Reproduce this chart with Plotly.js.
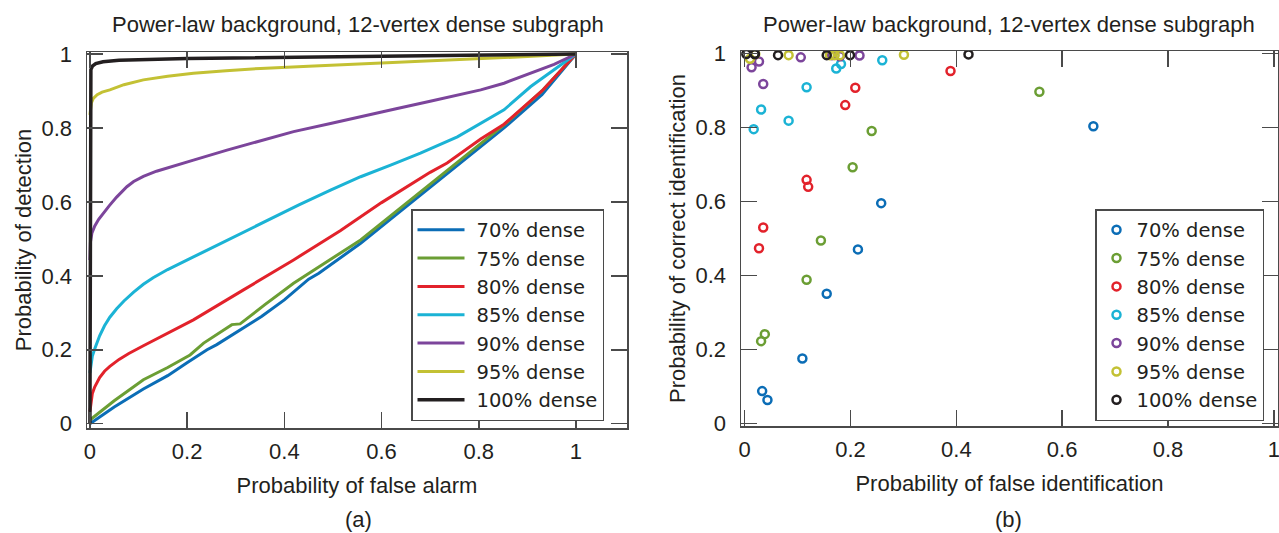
<!DOCTYPE html>
<html>
<head>
<meta charset="utf-8">
<script src="https://cdn.plot.ly/plotly-3.0.1.min.js"></script>
<style>
  html, body { margin: 0; padding: 0; background: #ffffff; }
  #chart { width: 1279px; height: 533px; }
</style>
</head>
<body>
<div id="chart"></div>
<script>
// Series names and colours, one per subgraph density
const densityLabels = ['70% dense', '75% dense', '80% dense', '85% dense', '90% dense', '95% dense', '100% dense'];
const seriesColors = ['#0b6db6', '#6b9e34', '#e2222b', '#1bb3d5', '#7c459b', '#c3c134', '#231f20'];

// (a) ROC curves: probability of false alarm vs probability of detection
const roc70X = [0, 0.05, 0.110, 0.160, 0.199, 0.241, 0.261, 0.353, 0.400, 0.450, 0.471, 0.557, 0.620, 0.700, 0.780, 0.852, 0.930, 1];
const roc70Y = [0, 0.045, 0.094, 0.130, 0.164, 0.200, 0.214, 0.290, 0.335, 0.391, 0.407, 0.488, 0.555, 0.640, 0.725, 0.800, 0.890, 1];

const roc75X = [0, 0.05, 0.110, 0.160, 0.206, 0.234, 0.292, 0.309, 0.360, 0.419, 0.557, 0.640, 0.700, 0.780, 0.852, 0.930, 1];
const roc75Y = [0.010, 0.062, 0.119, 0.152, 0.186, 0.218, 0.268, 0.270, 0.322, 0.380, 0.497, 0.585, 0.649, 0.733, 0.808, 0.900, 1];

const roc80X = [0, 0.002, 0.005, 0.010, 0.020, 0.030, 0.041, 0.060, 0.080, 0.110, 0.160, 0.213, 0.316, 0.419, 0.515, 0.600, 0.700, 0.735, 0.804, 0.852, 0.930, 1];
const roc80Y = [0.033, 0.060, 0.082, 0.100, 0.125, 0.142, 0.155, 0.174, 0.190, 0.211, 0.245, 0.281, 0.362, 0.443, 0.522, 0.598, 0.680, 0.705, 0.770, 0.810, 0.900, 1];

const roc85X = [0, 0.002, 0.005, 0.010, 0.020, 0.030, 0.041, 0.055, 0.070, 0.090, 0.110, 0.130, 0.160, 0.213, 0.268, 0.316, 0.371, 0.430, 0.495, 0.557, 0.620, 0.680, 0.756, 0.800, 0.852, 0.907, 0.955, 1];
const roc85Y = [0.137, 0.163, 0.183, 0.203, 0.238, 0.265, 0.288, 0.311, 0.332, 0.356, 0.377, 0.395, 0.417, 0.451, 0.487, 0.518, 0.554, 0.592, 0.632, 0.668, 0.700, 0.732, 0.776, 0.810, 0.849, 0.912, 0.958, 1];

const roc90X = [0, 0.001, 0.004, 0.010, 0.018, 0.027, 0.040, 0.055, 0.066, 0.076, 0.090, 0.110, 0.137, 0.175, 0.213, 0.282, 0.350, 0.419, 0.495, 0.557, 0.630, 0.700, 0.760, 0.804, 0.852, 0.907, 0.955, 1];
const roc90Y = [0.443, 0.490, 0.515, 0.535, 0.553, 0.569, 0.590, 0.613, 0.628, 0.641, 0.655, 0.669, 0.683, 0.699, 0.713, 0.740, 0.765, 0.790, 0.812, 0.831, 0.852, 0.872, 0.890, 0.903, 0.921, 0.948, 0.972, 1];

const roc95X = [0, 0.001, 0.003, 0.007, 0.015, 0.025, 0.041, 0.070, 0.110, 0.160, 0.213, 0.280, 0.351, 0.450, 0.557, 0.680, 0.800, 0.900, 1];
const roc95Y = [0.835, 0.855, 0.868, 0.880, 0.890, 0.897, 0.903, 0.917, 0.930, 0.940, 0.948, 0.955, 0.961, 0.967, 0.973, 0.979, 0.986, 0.993, 1];

const roc100X = [0, 0.001, 0.002, 0.005, 0.012, 0.027, 0.060, 0.200, 0.500, 0.800, 1];
const roc100Y = [0, 0.940, 0.958, 0.967, 0.974, 0.979, 0.983, 0.988, 0.992, 0.996, 1];

// (b) identification results: false identification vs correct identification
const id70X = [0.659, 0.258, 0.214, 0.155, 0.109, 0.033, 0.043];
const id70Y = [0.803, 0.595, 0.470, 0.350, 0.175, 0.087, 0.063];

const id75X = [0.557, 0.240, 0.204, 0.144, 0.117, 0.038, 0.031];
const id75Y = [0.896, 0.790, 0.692, 0.494, 0.388, 0.241, 0.222];

const id80X = [0.389, 0.209, 0.190, 0.117, 0.120, 0.035, 0.027];
const id80Y = [0.952, 0.907, 0.860, 0.658, 0.639, 0.529, 0.473];

const id85X = [0.260, 0.182, 0.173, 0.117, 0.031, 0.083, 0.017];
const id85Y = [0.981, 0.971, 0.959, 0.908, 0.848, 0.818, 0.795];

const id90X = [0.013, 0.027, 0.035, 0.106, 0.180, 0.217, 0.165];
const id90Y = [0.962, 0.978, 0.917, 0.989, 0.992, 0.994, 0.995];

const id95X = [0.010, 0.083, 0.161, 0.180, 0.301, 0.170, 0.020];
const id95Y = [0.985, 0.995, 0.995, 0.995, 0.996, 0.995, 0.998];

const id100X = [0.003, 0.019, 0.063, 0.155, 0.199, 0.423, 0.019];
const id100Y = [0.998, 0.998, 0.995, 0.995, 0.995, 0.997, 0.998];

const rocX = [roc70X, roc75X, roc80X, roc85X, roc90X, roc95X, roc100X];
const rocY = [roc70Y, roc75Y, roc80Y, roc85Y, roc90Y, roc95Y, roc100Y];
const idX = [id70X, id75X, id80X, id85X, id90X, id95X, id100X];
const idY = [id70Y, id75Y, id80Y, id85Y, id90Y, id95Y, id100Y];

const FONT = 'Liberation Sans, Arial, Helvetica, sans-serif';
const LEGEND_FONT = 'DejaVu Sans, Verdana, sans-serif';
const INK = '#231f20';
const AXIS = '#4a4a4a';

const traces = [];
densityLabels.forEach((name, i) => {
  traces.push({
    type: 'scatter', mode: 'lines', name: name,
    x: rocX[i], y: rocY[i], xaxis: 'x', yaxis: 'y',
    line: { color: seriesColors[i], width: i === 6 ? 3.5 : 3 },
    legend: 'legend', hoverinfo: 'skip'
  });
});
densityLabels.forEach((name, i) => {
  traces.push({
    type: 'scatter', mode: 'markers', name: name,
    x: idX[i], y: idY[i], xaxis: 'x2', yaxis: 'y2',
    marker: { symbol: 'circle-open', size: 8, color: seriesColors[i], line: { width: 2.5, color: seriesColors[i] } },
    legend: 'legend2', hoverinfo: 'skip'
  });
});

const W = 1279, H = 533;
function axisCommon(extra) {
  return Object.assign({
    showline: true, linecolor: AXIS, linewidth: 1.5, mirror: 'ticks',
    ticks: 'inside', ticklen: 16, tickwidth: 1.5, tickcolor: AXIS,
    showgrid: false, zeroline: false,
    tick0: 0, dtick: 0.2,
    ticklabeloverflow: 'allow',
    tickfont: { family: FONT, size: 22, color: INK }
  }, extra);
}
const axisTitleFont = { family: FONT, size: 22, color: INK };

const layout = {
  width: W, height: H,
  margin: { l: 0, r: 0, t: 0, b: 0 },
  paper_bgcolor: '#ffffff', plot_bgcolor: '#ffffff',
  font: { family: FONT, size: 22, color: INK },
  showlegend: true,
  xaxis: axisCommon({
    domain: [87 / W, 627 / W], range: [-0.006, 1.105], anchor: 'y',
    ticklabelstandoff: 3,
    title: { text: 'Probability of false alarm', standoff: 14, font: axisTitleFont }
  }),
  yaxis: axisCommon({
    domain: [(H - 428) / H, (H - 52) / H], range: [-0.0116, 1.0054], anchor: 'x',
    ticklabelstandoff: 9,
    title: { text: 'Probability of detection', standoff: 4, font: axisTitleFont }
  }),
  xaxis2: axisCommon({
    domain: [741 / W, 1278 / W], range: [-0.007, 1.008], anchor: 'y2',
    ticklabelstandoff: 3,
    title: { text: 'Probability of false identification', standoff: 14, font: axisTitleFont }
  }),
  yaxis2: axisCommon({
    domain: [(H - 426) / H, (H - 51) / H], range: [-0.0073, 1.0062], anchor: 'x2',
    ticklabelstandoff: 9,
    title: { text: 'Probability of correct identification', standoff: 4, font: axisTitleFont }
  }),
  legend: {
    x: 411 / W, y: (H - 209) / H, xanchor: 'left', yanchor: 'top',
    bgcolor: '#ffffff', bordercolor: AXIS, borderwidth: 1.5,
    font: { family: LEGEND_FONT, size: 19.5, color: INK },
    itemwidth: 54, tracegroupgap: 0
  },
  legend2: {
    x: 1095 / W, y: (H - 209) / H, xanchor: 'left', yanchor: 'top',
    bgcolor: '#ffffff', bordercolor: AXIS, borderwidth: 1.5,
    font: { family: LEGEND_FONT, size: 19.5, color: INK },
    itemwidth: 30, tracegroupgap: 0
  },
  annotations: [
    { text: 'Power-law background, 12-vertex dense subgraph', xref: 'paper', yref: 'paper',
      x: 358 / W, y: 1 - 24 / H, xanchor: 'center', yanchor: 'middle', showarrow: false,
      font: { family: FONT, size: 22, color: INK } },
    { text: 'Power-law background, 12-vertex dense subgraph', xref: 'paper', yref: 'paper',
      x: 1009 / W, y: 1 - 25 / H, xanchor: 'center', yanchor: 'middle', showarrow: false,
      font: { family: FONT, size: 22, color: INK } },
    { text: '(a)', xref: 'paper', yref: 'paper', x: 358 / W, y: 14 / H,
      xanchor: 'center', yanchor: 'middle', showarrow: false,
      font: { family: FONT, size: 22, color: INK } },
    { text: '(b)', xref: 'paper', yref: 'paper', x: 1008 / W, y: 14 / H,
      xanchor: 'center', yanchor: 'middle', showarrow: false,
      font: { family: FONT, size: 22, color: INK } }
  ]
};

// longer line samples in the curve legend
function stretchLegendLines() {
  document.querySelectorAll('#chart g.legend g.legendlines path').forEach(p => p.setAttribute('d', 'M5,0h47'));
}

Plotly.newPlot('chart', traces, layout, { displayModeBar: false, staticPlot: true }).then(gd => {
  stretchLegendLines();
  gd.on('plotly_afterplot', stretchLegendLines);
  setTimeout(stretchLegendLines, 50);
});
</script>
</body>
</html>
